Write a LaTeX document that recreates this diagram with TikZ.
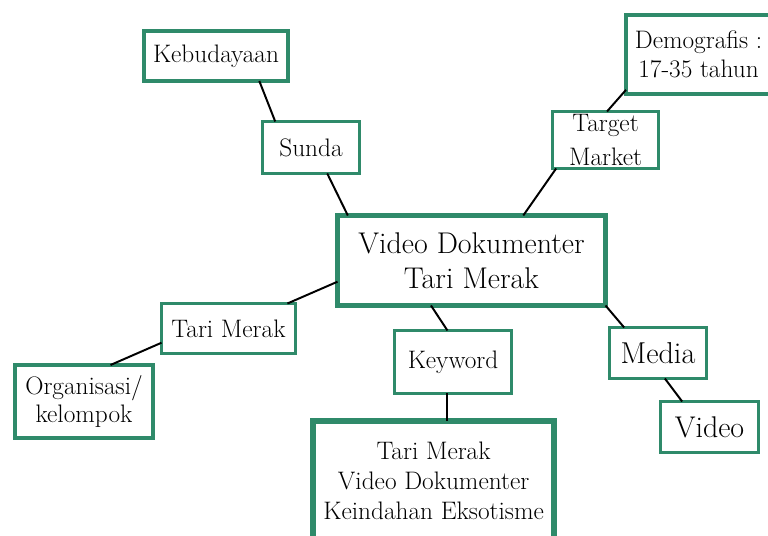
\documentclass[tikz,border=0pt]{standalone}
\usepackage{fontspec}
\definecolor{boxgreen}{RGB}{47,138,106}
\begin{document}
\begin{tikzpicture}[scale=1,inner sep=0pt,outer sep=0pt,
box/.style={draw=boxgreen,fill=white,rectangle,line width=2.1pt,align=center,font=\fontsize{18}{21.5}\selectfont},
bigbox/.style={box,line width=3pt},
link/.style={draw=black,line width=1.4pt}]
\useasboundingbox (0,0) rectangle (19.2,13.4);
\draw (11.7875,6.8875) node[bigbox,line width=3.5pt,minimum width=6.7cm,minimum height=2.25cm,font=\fontsize{21.3}{25}\selectfont] (video) {Video Dokumenter\\Tari Merak};
\draw (5.4,12) node[bigbox,minimum width=3.6cm,minimum height=1.25cm] (budaya) {Kebudayaan};
\draw (7.775,9.7125) node[box,minimum width=2.425cm,minimum height=1.3cm] (sunda) {Sunda};
\draw (17.4625,12.0375) node[bigbox,minimum width=3.625cm,minimum height=1.975cm,font=\fontsize{18}{20.5}\selectfont] (demo) {Demografis :\\17-35 tahun};
\draw (15.1375,9.9) node[box,minimum width=2.65cm,minimum height=1.425cm,font=\fontsize{18}{23.5}\selectfont] (target) {Target\\Market};
\draw (5.7125,5.1875) node[box,minimum width=3.35cm,minimum height=1.25cm] (tari) {Tari Merak};
\draw (2.1,3.3625) node[bigbox,minimum width=3.45cm,minimum height=1.825cm,font=\fontsize{18}{20}\selectfont] (org) {Organisasi/\\kelompok};
\draw (11.325,4.35) node[box,minimum width=2.925cm,minimum height=1.575cm] (key) {Keyword};
\draw (10.84,1.375) node[bigbox,line width=4.5pt,minimum width=6.025cm,minimum height=3cm,font=\fontsize{18}{21.5}\selectfont] (kata) {Tari Merak\\Video Dokumenter\\Keindahan Eksotisme};
\draw (16.45,4.575) node[box,minimum width=2.425cm,minimum height=1.275cm,font=\fontsize{21.5}{25}\selectfont] (media) {Media};
\draw (17.7375,2.725) node[box,minimum width=2.45cm,minimum height=1.275cm,font=\fontsize{21.3}{25}\selectfont] (vid) {Video};
\draw[link] (budaya.-30) -- (sunda.144);
\draw[link] (sunda.-58) -- (video.160);
\draw[link] (target.-150) -- (video.41);
\draw[link] (target.87) -- (demo.-154);
\draw[link] (video.-171) -- (tari.23);
\draw[link] (tari.-168) -- (org.54);
\draw[link] (video.-132) -- (key.100);
\draw[link] (key.-100) -- (key.-100 |- kata.north);
\draw[link] (video.south east) -- (media.143);
\draw[link] (media.-75) -- (vid.137);
\end{tikzpicture}
\end{document}
